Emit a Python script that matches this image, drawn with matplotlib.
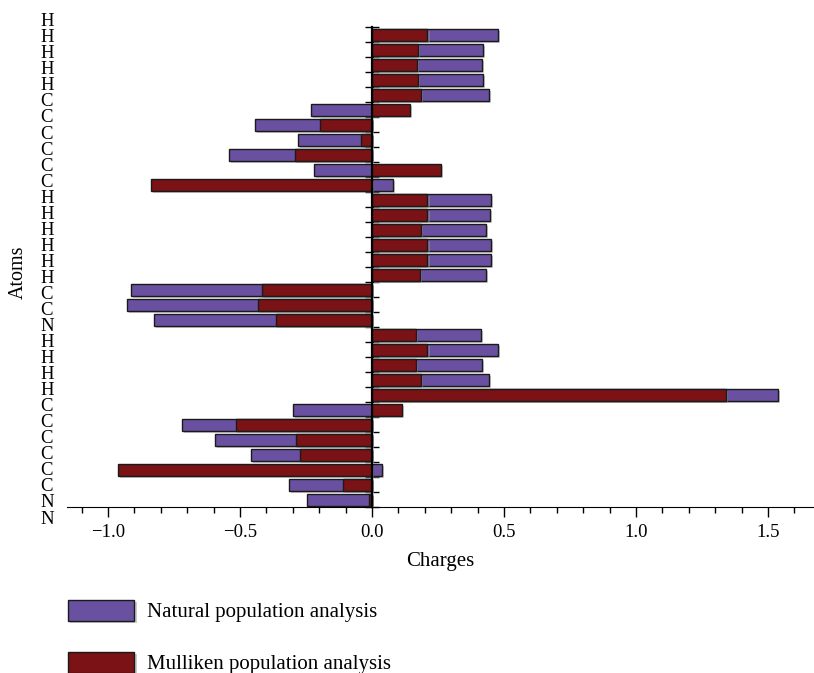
import matplotlib.pyplot as plt
import matplotlib.patheffects as pe
import numpy as np

plt.rcParams['font.family'] = ['Liberation Serif', 'DejaVu Serif']

# Atom labels as printed down the left side (top to bottom)
atom_labels = ['H', 'H', 'H', 'H', 'H',
               'C', 'C', 'C', 'C', 'C', 'C',
               'H', 'H', 'H', 'H', 'H', 'H',
               'C', 'C', 'N',
               'H', 'H', 'H', 'H',
               'C', 'C', 'C', 'C', 'C', 'C',
               'N', 'N']

# Charges per atom row (top to bottom)
natural = [0.476, 0.422, 0.418, 0.422, 0.444,
           -0.231, -0.443, -0.28, -0.54, -0.22, 0.081,
           0.452, 0.448, 0.43, 0.45, 0.45, 0.43,
           -0.913, -0.928, -0.826,
           0.413, 0.477, 0.417, 0.444, 1.538,
           -0.30, -0.72, -0.595, -0.458, 0.039, -0.314,
           -0.246]
mulliken = [0.21, 0.173, 0.169, 0.173, 0.184,
            0.145, -0.197, -0.042, -0.29, 0.262, -0.837,
            0.21, 0.21, 0.185, 0.21, 0.21, 0.18,
            -0.417, -0.43, -0.364,
            0.167, 0.21, 0.167, 0.184, 1.341,
            0.115, -0.515, -0.288, -0.273, -0.962, -0.111,
            -0.01]

purple = '#6a50a0'
darkred = '#7b1215'

fig = plt.figure(figsize=(8.14, 6.73), dpi=100)
ax = fig.add_axes([67/814, 1 - 507/673, 747/814, 480/673])

rows = np.arange(len(natural))
shadow = [pe.SimplePatchShadow(offset=(1.5, -1.5), shadow_rgbFace='#999999', alpha=0.5), pe.Normal()]
b1 = ax.barh(rows, natural, height=0.8, color=purple, edgecolor='#1a1a1a', linewidth=1,
             label='Natural population analysis', zorder=2)
b2 = ax.barh(rows, mulliken, height=0.8, color=darkred, edgecolor='#1a1a1a', linewidth=1,
             label='Mulliken population analysis', zorder=3)
for p in list(b1) + list(b2):
    p.set_path_effects(shadow)

ax.set_ylim(len(rows) - 0.5, -0.5)
ax.set_xlim(-1.155, 1.674)

# y axis sits at zero, ticks at row boundaries
ax.spines['left'].set_position(('data', 0))
ax.spines['left'].set_linewidth(1.6)
ax.spines['left'].set_zorder(5)
ax.spines['top'].set_visible(False)
ax.spines['right'].set_visible(False)
ax.set_yticks(np.arange(len(rows) + 1) - 0.5)
ax.set_yticklabels([])
ax.tick_params(axis='y', direction='inout', length=10, width=1)

ax.set_xticks([-1.0, -0.5, 0.0, 0.5, 1.0, 1.5])
ax.set_xticklabels(['\u22121.0', '\u22120.5', '0.0', '0.5', '1.0', '1.5'])
ax.set_xticks(np.arange(-1.1, 1.65, 0.1), minor=True)
ax.tick_params(axis='x', which='major', length=7, width=1, labelsize=13.5, pad=5)
ax.tick_params(axis='x', which='minor', length=4, width=1)

# atom labels are spread a bit wider than the bars
lab_pos = np.linspace(-0.85, 32.3, len(atom_labels))
for lab, yp in zip(atom_labels, lab_pos):
    ax.text(-1.231, yp, lab, ha='center', va='center', fontsize=13.5, clip_on=False)

ax.set_xlabel('Charges', fontsize=15, labelpad=8)
ax.set_ylabel('Atoms', fontsize=14.5)
ax.yaxis.set_label_coords(-0.052, 0.49)

fig.legend(handles=[b1, b2], loc='upper left', bbox_to_anchor=(49/814, 1 - 581/673),
           frameon=False, fontsize=15, handlelength=3.2, handleheight=1.2,
           handletextpad=0.62, labelspacing=1.4)

fig.savefig('out.png', dpi=100)
